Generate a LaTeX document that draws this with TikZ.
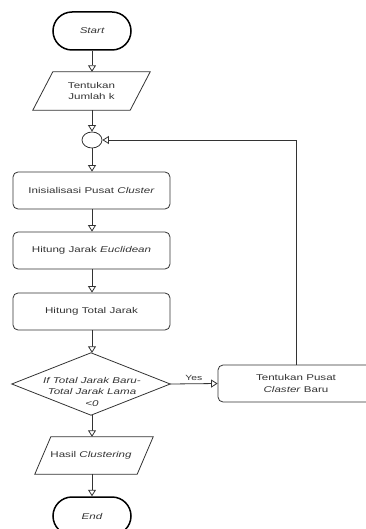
\documentclass[tikz,border=0pt]{standalone}
\usepackage{fontspec}
\setmainfont[FakeStretch=1.38]{Liberation Sans}
\usetikzlibrary{arrows.meta,shapes.misc,shapes.geometric,calc}
\definecolor{ln}{HTML}{333333}
\definecolor{tx}{HTML}{333333}
\begin{document}
\begin{tikzpicture}[x=1pt,y=-1pt,
  every node/.style={font=\fontsize{8.4}{11.5}\selectfont, text=tx, align=center, inner sep=0pt},
  term/.style={rounded rectangle, draw=black, line width=1.5pt, minimum width=78, minimum height=38},
  procbox/.style={rectangle, rounded corners=5pt, draw=ln, line width=0.8pt, minimum width=157, minimum height=37},
  ghost/.style={rectangle, minimum width=#1},
  conn/.style={draw=ln, line width=0.8pt, -{Triangle[open, length=6.5pt, width=8pt, fill=white]}},
  plain/.style={draw=ln, line width=0.8pt},
]
\useasboundingbox (0,0) rectangle (365,529);

\node[term] (start) at (92,31) {\itshape Start};

\node[ghost=117, minimum height=38] (p1) at (91.5,91) {Tentukan\\Jumlah k};
\draw[plain] ($(p1.north west)+(20,0)$) -- (p1.north east) -- ($(p1.south east)-(20,0)$) -- (p1.south west) -- cycle;

\node[ellipse, draw=ln, line width=0.8pt, minimum width=20, minimum height=16] (c) at (92,140) {};

\node[procbox] (b1) at (91.5,190.5) {Inisialisasi Pusat \textit{Cluster}};
\node[procbox] (b2) at (91.5,250.5) {Hitung Jarak \textit{Euclidean}};
\node[procbox] (b3) at (91.5,311.5) {Hitung Total Jarak};

\node[ghost=158, minimum height=62] (d) at (91,384) {};
\draw[plain] (d.north) -- (d.east) -- (d.south) -- (d.west) -- cycle;
\node (dt) at (92,391.5) {\itshape If Total Jarak Baru-\\\itshape Total Jarak Lama\\\itshape <0};

\node[procbox, minimum width=156] (nb) at (296,383.5) {Tentukan Pusat\\\textit{Claster} Baru};

\node[ghost=118, minimum height=37] (p2) at (94,455.5) {};
\draw[plain] ($(p2.north west)+(16,0)$) -- (p2.north east) -- ($(p2.south east)-(16,0)$) -- (p2.south west) -- cycle;
\node (p2t) at (91,455.5) {Hasil \textit{Clustering}};

\node[term] (end) at (92,516) {\itshape End};

\draw[conn] (start.south) -- (p1.north -| start.south);
\draw[conn] (p1.south -| c.north) -- (c.north);
\draw[conn] (c.south) -- (b1.north -| c.south);
\draw[conn] (b1.south -| c.south) -- (b2.north -| c.south);
\draw[conn] (b2.south -| c.south) -- (b3.north -| c.south);
\draw[conn] (b3.south -| c.south) -- (d.north -| c.south);
\draw[conn] (d.south -| c.south) -- (p2.north -| c.south);
\draw[conn] (p2.south -| c.south) -- (end.north);
\draw[conn] (d.east) -- node[above=3pt, font=\fontsize{7.5}{9}\selectfont] (yes) {Yes} (nb.west);
\draw[conn] (nb.north) -- (nb.north |- c.east) -- (c.east);
\end{tikzpicture}
\end{document}
